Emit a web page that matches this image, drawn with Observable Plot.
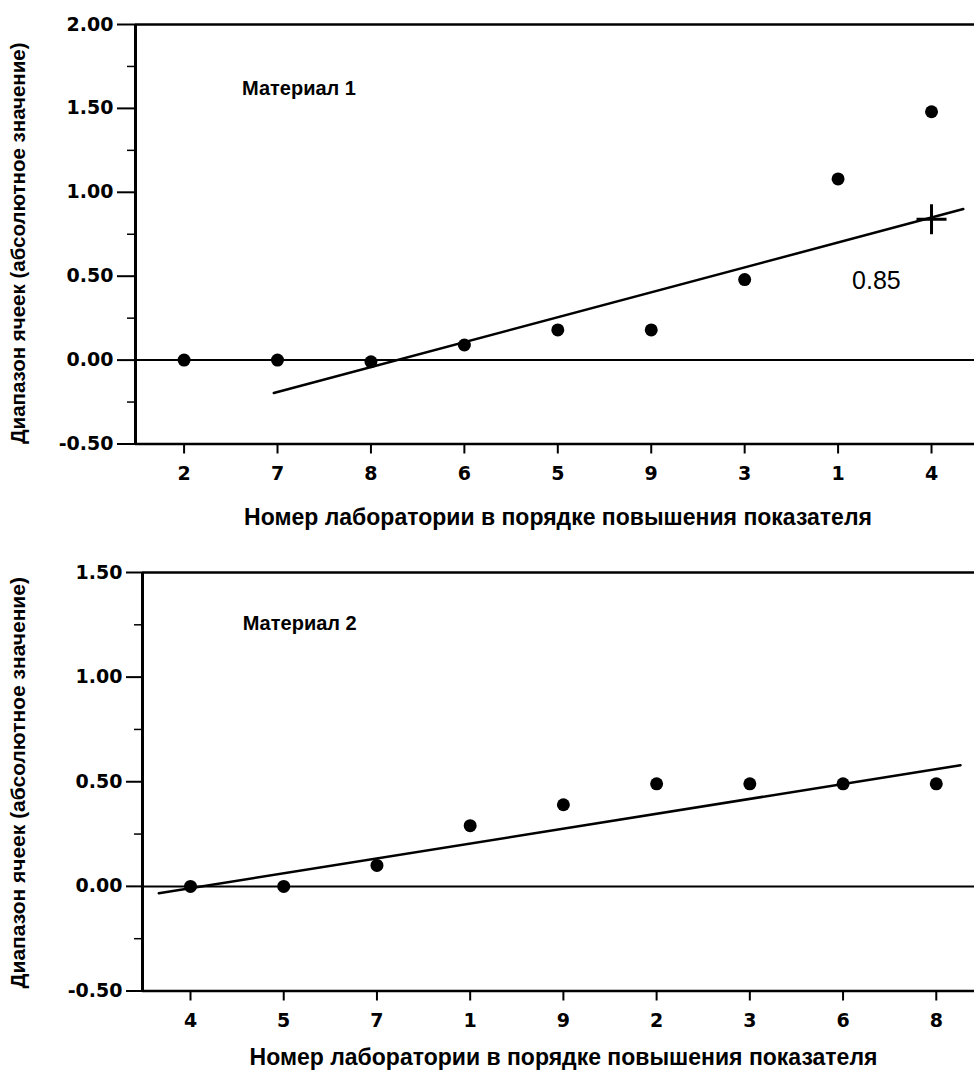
<!DOCTYPE html>
<html>
<head>
<meta charset="utf-8">
<script src="https://cdn.jsdelivr.net/npm/d3@7"></script>
<script src="https://cdn.jsdelivr.net/npm/@observablehq/plot@0.6"></script>
<style>
  html, body { margin: 0; padding: 0; background: #fff; }
  #chart svg { display: block; }
</style>
</head>
<body>
<div id="chart"></div>
<script>
// ---- Data ----
const yTitle = "Диапазон ячеек (абсолютное значение)";
const xTitle = "Номер лаборатории в порядке повышения показателя";

// Material 1
const labs1 = ["2", "7", "8", "6", "5", "9", "3", "1", "4"];
const vals1 = [0, 0, -0.01, 0.09, 0.18, 0.18, 0.48, 1.08, 1.48];
const fit1X = [0.96, 8.34];
const fit1Y = [-0.196, 0.90];
const mark1 = [{i: 8, v: 0.84, text: "0.85"}];
const yTicks1 = [-0.5, 0, 0.5, 1, 1.5, 2];
const yMinor1 = [-0.25, 0.25, 0.75, 1.25, 1.75];

// Material 2
const labs2 = ["4", "5", "7", "1", "9", "2", "3", "6", "8"];
const vals2 = [0, 0, 0.1, 0.29, 0.39, 0.49, 0.49, 0.49, 0.49];
const fit2X = [-0.34, 8.26];
const fit2Y = [-0.033, 0.579];
const yTicks2 = [-0.5, 0, 0.5, 1, 1.5];
const yMinor2 = [-0.25, 0.25, 0.75, 1.25];

const plusSymbol = {
  draw(ctx, size) {
    const r = Math.sqrt(size / Math.PI);
    ctx.moveTo(-r, 0); ctx.lineTo(r, 0);
    ctx.moveTo(0, -r); ctx.lineTo(0, r);
  }
};

const tickFont = "'DejaVu Sans', sans-serif";
const textFont = "'Liberation Sans', Arial, sans-serif";

function panel(o) {
  const pts = o.labs.map((l, i) => ({i, lab: l, v: o.vals[i]}));
  const fit = o.fitX.map((x, k) => ({x, y: o.fitY[k]}));
  const [y0, y1] = o.yDomain;
  const marks = [
    // frame lines
    Plot.ruleY([y1], {stroke: "#000", strokeWidth: 2.5}),
    Plot.ruleY([y0], {stroke: "#000", strokeWidth: 2.5}),
    Plot.ruleY([0], {stroke: "#000", strokeWidth: 2}),
    Plot.ruleX([o.xDomain[0]], {stroke: "#000", strokeWidth: 3}),
    // y axis
    Plot.axisY({ticks: o.yTicks, tickSize: o.tickLen, tickPadding: 4, tickFormat: d => d.toFixed(2),
      fontFamily: tickFont, fontWeight: "bold", fontSize: 19, strokeWidth: 2, label: null,
      style: "letter-spacing:2.6px"}),
    Plot.axisY({ticks: o.yMinor, tickSize: 8, text: null, strokeWidth: 1.5, label: null}),
    // x axis
    Plot.axisX({ticks: d3.range(o.labs.length), tickSize: 10, tickPadding: 12,
      tickFormat: i => o.labs[i], fontFamily: tickFont, fontWeight: "bold", fontSize: 19,
      strokeWidth: 2, label: null}),
    // titles
    Plot.text([xTitle], {frameAnchor: "bottom", dx: o.xTitleDx, dy: o.xTitleDy, text: d => d,
      fontFamily: textFont, fontWeight: "bold", fontSize: 23, lineAnchor: "middle",
      textAnchor: "middle", style: "letter-spacing:1.6px"}),
    Plot.text([yTitle], {frameAnchor: "left", dx: -o.yTitleDx, dy: o.yTitleDy, rotate: -90, text: d => d,
      fontFamily: textFont, fontWeight: "bold", fontSize: o.yTitleSize, lineAnchor: "middle", textAnchor: "middle",
      style: `letter-spacing:${o.yTitleLs}px`}),
    Plot.text([o.name], {x: [o.nameAt[0]], y: [o.nameAt[1]], text: d => d, textAnchor: "start",
      fontFamily: textFont, fontWeight: "bold", fontSize: 20, style: "letter-spacing:1px"}),
    // fit line
    Plot.line(fit, {x: "x", y: "y", stroke: "#000", strokeWidth: 2.5}),
    // data points
    Plot.dot(pts, {x: "i", y: "v", r: 6.5, fill: "#000"})
  ];
  if (o.mark) {
    marks.push(Plot.dot(o.mark, {x: "i", y: "v", r: 15, symbol: plusSymbol, stroke: "#000", strokeWidth: 3, fill: "none"}));
    marks.push(Plot.text(o.mark, {x: d => d.i - 0.59, y: d => d.v - 0.366, text: "text",
      fontFamily: textFont, fontSize: 25, style: "letter-spacing:2.5px"}));
  }
  return Plot.plot({
    width: 974,
    height: o.height,
    marginTop: o.mt, marginBottom: o.mb, marginLeft: o.ml, marginRight: 0,
    x: {type: "linear", domain: o.xDomain, axis: null},
    y: {domain: o.yDomain, axis: null},
    style: {background: "#fff", color: "#000", overflow: "visible"},
    marks
  });
}

const el = document.getElementById("chart");
el.append(panel({
  labs: labs1, vals: vals1, fitX: fit1X, fitY: fit1Y, mark: mark1,
  yTicks: yTicks1, yMinor: yMinor1, yDomain: [-0.5, 2], xDomain: [-0.52, 8.46],
  height: 520, mt: 24, mb: 76.5, ml: 135, tickLen: 18,
  xTitleDx: 3, xTitleDy: 74, yTitleDx: 117, yTitleDy: 9, yTitleSize: 20.5, yTitleLs: 2,
  name: "Материал 1", nameAt: [0.62, 1.62]
}));
el.append(panel({
  labs: labs2, vals: vals2, fitX: fit2X, fitY: fit2Y, mark: null,
  yTicks: yTicks2, yMinor: yMinor2, yDomain: [-0.5, 1.5], xDomain: [-0.515, 8.41],
  height: 555, mt: 52, mb: 84.5, ml: 142, tickLen: 16,
  xTitleDx: 5, xTitleDy: 67, yTitleDx: 124, yTitleDy: 1, yTitleSize: 21, yTitleLs: 2.4,
  name: "Материал 2", nameAt: [0.56, 1.255]
}));
</script>
</body>
</html>
